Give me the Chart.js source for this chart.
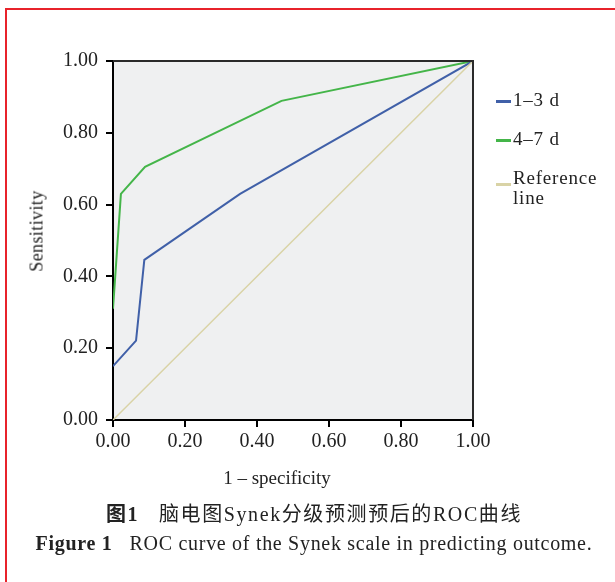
<!DOCTYPE html>
<html>
<head>
<meta charset="utf-8">
<script src="https://cdn.jsdelivr.net/npm/chart.js@4"></script>
<style>
  html, body { margin: 0; padding: 0; background: #fff; }
  #page { position: relative; width: 615px; height: 582px; overflow: hidden; font-family: "Liberation Serif", "Noto Sans CJK SC", serif; color: #222; }
  #frameTop { position: absolute; left: 5px; top: 8px; width: 620px; height: 2px; background: #e8232b; }
  #frameLeft { position: absolute; left: 5px; top: 8px; width: 2px; height: 590px; background: #e8232b; }
  #wrap { position: absolute; left: 0; top: 0; width: 615px; height: 582px; }
  .lab { position: absolute; white-space: nowrap; }
  #legend { position: absolute; left: 496px; top: 90px; font-size: 19px; line-height: 20px; letter-spacing: 0.8px; }
  .item { position: relative; padding-left: 17px; margin-bottom: 19px; }
  .sw { position: absolute; left: 0; width: 15px; height: 3px; }
</style>
</head>
<body>
<div id="page">
  <div id="frameTop"></div>
  <div id="frameLeft"></div>
  <div id="wrap"><canvas id="roc"></canvas></div>

  <div class="lab" style="left:37px; top:231px; font-size:18px; letter-spacing:0.4px; transform: translate(-50%,-50%) rotate(-90deg);">Sensitivity</div>
  <div class="lab" style="left:277px; top:478px; font-size:19px; transform: translate(-50%,-50%);">1 – specificity</div>

  <div id="legend">
    <div class="item"><span class="sw" style="top:10px; background:#4060a8"></span>1–3 d</div>
    <div class="item"><span class="sw" style="top:10px; background:#44b549"></span>4–7 d</div>
    <div class="item"><span class="sw" style="top:15px; background:#d9d3a6"></span>Reference<br>line</div>
  </div>

  <div class="lab" style="left:314px; top:512px; font-size:20px; letter-spacing:1.6px; transform: translate(-50%,-50%);"><b>图1</b>&nbsp;&nbsp;&nbsp;脑电图Synek分级预测预后的ROC曲线</div>
  <div class="lab" style="left:314px; top:543px; font-size:20px; letter-spacing:0.7px; transform: translate(-50%,-50%);"><b>Figure 1</b>&nbsp;&nbsp;&nbsp;ROC curve of the Synek scale in predicting outcome.</div>
</div>

<script>
// 1 - specificity / sensitivity
const fpr13 = [0, 0.064, 0.087, 0.353, 1];
const tpr13 = [0.15, 0.221, 0.446, 0.63, 1];
const fpr47 = [0, 0.022, 0.089, 0.468, 1];
const tpr47 = [0.31, 0.63, 0.705, 0.889, 1];
const refX = [0, 1];
const refY = [0, 1];
const tickVals = [0, 0.2, 0.4, 0.6, 0.8, 1];

function toPoints(xs, ys) {
  return xs.map((x, i) => ({ x: x, y: ys[i] }));
}

// grey plot background plus the top/right frame
const plotFrame = {
  id: 'plotFrame',
  beforeDraw(chart) {
    const { ctx, chartArea: a } = chart;
    ctx.save();
    ctx.fillStyle = '#eff0f1';
    ctx.fillRect(a.left, a.top, a.width, a.height);
    ctx.restore();
  },
  afterDatasetsDraw(chart) {
    const { ctx, chartArea: a } = chart;
    ctx.save();
    ctx.strokeStyle = '#2a2a2a';
    ctx.lineWidth = 2;
    ctx.beginPath();
    ctx.moveTo(a.left, a.top);
    ctx.lineTo(a.right, a.top);
    ctx.lineTo(a.right, a.bottom);
    ctx.stroke();
    ctx.restore();
  }
};

const tickFont = { family: 'Liberation Serif', size: 20 };

function axis(extra) {
  return Object.assign({
    type: 'linear',
    min: 0,
    max: 1,
    afterBuildTicks: s => { s.ticks = tickVals.map(v => ({ value: v })); },
    ticks: { callback: v => v.toFixed(2), font: tickFont, color: '#222' },
    grid: { drawOnChartArea: false, drawTicks: true, tickLength: 7, color: '#000', lineWidth: 2 },
    border: { display: true, color: '#000', width: 2 }
  }, extra);
}

const xAxis = axis({ afterFit: s => { s.height = 162; } });
xAxis.ticks = Object.assign({}, xAxis.ticks, { padding: 3, maxRotation: 0 });
const yAxis = axis({ afterFit: s => { s.width = 107; } });
yAxis.ticks = Object.assign({}, yAxis.ticks, { padding: 8 });

new Chart(document.getElementById('roc'), {
  type: 'scatter',
  data: {
    datasets: [
      { label: 'Reference line', data: toPoints(refX, refY), showLine: true, borderColor: '#d9d3a6', borderWidth: 1.5, pointRadius: 0 },
      { label: '1–3 d', data: toPoints(fpr13, tpr13), showLine: true, borderColor: '#4060a8', borderWidth: 2, pointRadius: 0 },
      { label: '4–7 d', data: toPoints(fpr47, tpr47), showLine: true, borderColor: '#44b549', borderWidth: 2, pointRadius: 0 }
    ]
  },
  options: {
    responsive: true,
    maintainAspectRatio: false,
    animation: false,
    layout: { padding: { left: 6, top: 61, right: 142, bottom: 0 } },
    plugins: { legend: { display: false }, tooltip: { enabled: false } },
    scales: { x: xAxis, y: yAxis }
  },
  plugins: [plotFrame]
});
</script>
</body>
</html>
